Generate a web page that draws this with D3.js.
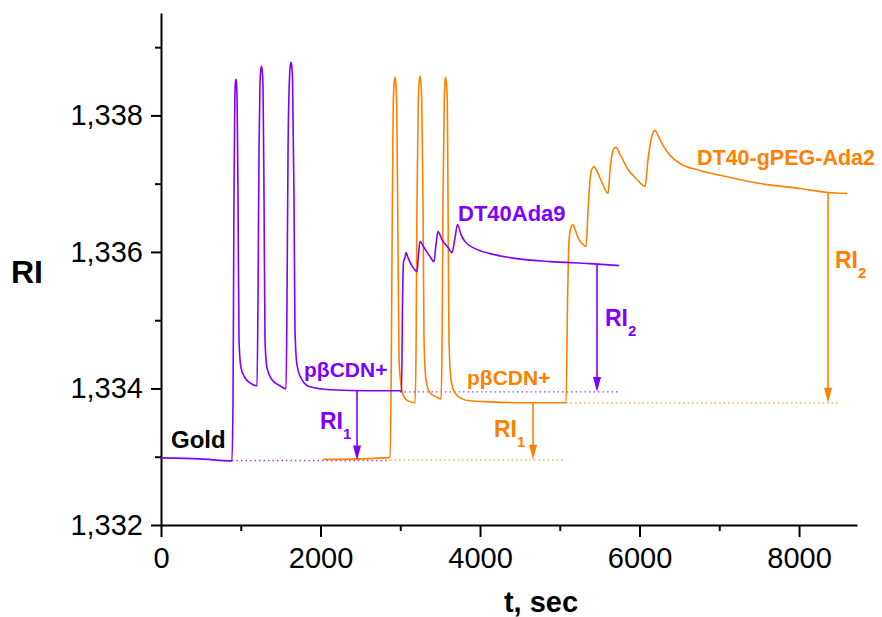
<!DOCTYPE html>
<html><head><meta charset="utf-8">
<script src="https://cdn.jsdelivr.net/npm/d3@7"></script>
<style>
body{margin:0;background:#fff;}
text{font-family:"Liberation Sans",Arial,sans-serif;}
</style></head>
<body><svg id="c" width="882" height="617"></svg>
<script>
// ---- data ----
const purpleT  = [0,489,890,903,915,925,933,940,947,955,966,978,1003,1053,1116,1204,1216,1229,1241,1252,1260,1268,1279,1292,1304,1329,1392,1492,1568,1580,1593,1611,1622,1630,1638,1649,1668,1680,1705,1768,1868,2119,2621,2997,3016,3029,3041,3060,3072,3097,3147,3210,3229,3248,3298,3373,3423,3448,3473,3523,3599,3649,3687,3718,3762,3812,3938,4126,4376,4878,5380,5743];
const purpleRI = [1.332983,1.332968,1.332939,1.333834,1.336768,1.338150,1.338480,1.338528,1.338470,1.338150,1.336768,1.334714,1.334303,1.334157,1.334083,1.334039,1.335300,1.337500,1.338450,1.338680,1.338719,1.338670,1.338450,1.336768,1.334714,1.334303,1.334127,1.334039,1.333995,1.335300,1.337500,1.338550,1.338740,1.338778,1.338740,1.338550,1.336768,1.334860,1.334347,1.334127,1.334024,1.333981,1.333966,1.333966,1.333951,1.335301,1.335858,1.335917,1.335990,1.335917,1.335799,1.335711,1.335961,1.336152,1.336064,1.335932,1.335858,1.336108,1.336298,1.336181,1.336064,1.335990,1.336210,1.336401,1.336254,1.336151,1.336049,1.335975,1.335917,1.335858,1.335829,1.335800];
const orangeT  = [2031,2495,2872,2884,2897,2912,2926,2934,2942,2956,2972,2985,3010,3047,3097,3185,3198,3210,3226,3240,3248,3256,3270,3285,3298,3323,3373,3448,3511,3524,3536,3552,3562,3568,3576,3590,3599,3611,3637,3687,3774,3875,4126,4627,5079,5098,5117,5142,5167,5192,5242,5292,5330,5355,5380,5405,5430,5468,5530,5606,5631,5656,5681,5706,5756,5856,5957,6069,6107,6145,6170,6195,6232,6295,6383,6508,6759,7135,7511,8013,8364,8602];
const orangeRI = [1.332961,1.332968,1.332990,1.333834,1.336034,1.338150,1.338500,1.338557,1.338500,1.338150,1.336034,1.334420,1.334054,1.333878,1.333819,1.333790,1.334567,1.336768,1.338200,1.338520,1.338572,1.338520,1.338200,1.336768,1.334714,1.334127,1.333936,1.333878,1.333848,1.334567,1.336768,1.338200,1.338500,1.338557,1.338500,1.338200,1.336768,1.334714,1.334127,1.333936,1.333848,1.333819,1.333804,1.333790,1.333790,1.335300,1.336181,1.336357,1.336401,1.336328,1.336181,1.336108,1.336078,1.336621,1.337061,1.337222,1.337252,1.337178,1.337017,1.336856,1.337208,1.337428,1.337516,1.337531,1.337428,1.337208,1.337076,1.336959,1.337355,1.337648,1.337751,1.337780,1.337707,1.337560,1.337413,1.337296,1.337193,1.337090,1.337002,1.336929,1.336870,1.336856];

// reference (dotted) levels and arrows
const purpleBase1 = {t0:890, t1:2870, ri:1.332945};
const purpleBase2 = {t0:2997, t1:5756, ri:1.333950};
const orangeBase1 = {t0:2872, t1:5042, ri:1.332954};
const orangeBase2 = {t0:5079, t1:8515, ri:1.333790};
const purpleArrows = [{t:2458, from:1.333966, to:1.332945},{t:5467, from:1.335830, to:1.333950}];
const orangeArrows = [{t:4665, from:1.333790, to:1.332954},{t:8364, from:1.336870, to:1.333790}];

const xMajor = [0,2000,4000,6000,8000];
const xMinor = [1000,3000,5000,7000];
const yMajor = [1.332,1.334,1.336,1.338];
const yMinor = [1.333,1.335,1.337,1.339];

// ---- layout ----
const PURPLE = "#8000ff", ORANGE = "#ff8000";
const svg = d3.select("#c");
const L = 161, T = 13, R = 857, B = 525;
const x = d3.scaleLinear().domain([0, 8727]).range([L, R]);
const y = d3.scaleLinear().domain([1.332, 1.3395]).range([B, T]);

const fmtY = d => d3.format(".3f")(d).replace(".", ",");
const fmtX = d3.format("d");

// minor ticks
svg.append("g").attr("transform",`translate(${L},0)`)
  .call(d3.axisLeft(y).tickValues(yMinor).tickSize(6).tickSizeOuter(0).tickFormat(""))
  .call(g=>g.select(".domain").remove())
  .call(g=>g.selectAll("line").attr("stroke","#000").attr("stroke-width",2));
svg.append("g").attr("transform",`translate(0,${B})`)
  .call(d3.axisBottom(x).tickValues(xMinor).tickSize(6).tickSizeOuter(0).tickFormat(""))
  .call(g=>g.select(".domain").remove())
  .call(g=>g.selectAll("line").attr("stroke","#000").attr("stroke-width",2));

// major axes
const gy = svg.append("g").attr("transform",`translate(${L},0)`)
  .call(d3.axisLeft(y).tickValues(yMajor).tickSize(10).tickSizeOuter(0).tickPadding(8).tickFormat(fmtY));
const gx = svg.append("g").attr("transform",`translate(0,${B})`)
  .call(d3.axisBottom(x).tickValues(xMajor).tickSize(12).tickSizeOuter(0).tickPadding(10).tickFormat(fmtX));
[gy,gx].forEach(g=>{
  g.attr("font-family","'Liberation Sans',Arial,sans-serif").attr("font-size",29);
  g.selectAll("text").attr("fill","#000");
  g.selectAll("line").attr("stroke","#000").attr("stroke-width",2);
  g.select(".domain").attr("stroke","#000").attr("stroke-width",2);
});

// axis titles
svg.append("text").attr("x",27).attr("y",283).attr("text-anchor","middle")
  .attr("font-size",32).attr("font-weight","bold").text("RI");
svg.append("text").attr("x",541).attr("y",612).attr("text-anchor","middle")
  .attr("font-size",29).attr("font-weight","bold").text("t, sec");

// dotted baselines
function dotted(b, col){
  svg.append("line").attr("x1",x(b.t0)).attr("x2",x(b.t1)).attr("y1",y(b.ri)).attr("y2",y(b.ri))
    .attr("stroke",col).attr("stroke-width",1.3).attr("stroke-dasharray","1.5,3").attr("opacity",0.75);
}
dotted(purpleBase1, PURPLE); dotted(orangeBase1, ORANGE);
dotted(purpleBase2, PURPLE); dotted(orangeBase2, ORANGE);

// curves
const line = d3.line().x(d=>x(d[0])).y(d=>y(d[1])).curve(d3.curveMonotoneX);
svg.append("path").datum(orangeT.map((t,i)=>[t,orangeRI[i]]))
  .attr("d",line).attr("fill","none").attr("stroke",ORANGE).attr("stroke-width",1.6);
svg.append("path").datum(purpleT.map((t,i)=>[t,purpleRI[i]]))
  .attr("d",line).attr("fill","none").attr("stroke",PURPLE).attr("stroke-width",1.6);

// arrows
function arrow(a, col){
  const xa = x(a.t), y0 = y(a.from), y1 = y(a.to);
  svg.append("line").attr("x1",xa).attr("x2",xa).attr("y1",y0).attr("y2",y1-14)
    .attr("stroke",col).attr("stroke-width",1.6);
  svg.append("path").attr("d",`M${xa-4},${y1-15}L${xa+4},${y1-15}L${xa},${y1}Z`).attr("fill",col);
}
purpleArrows.forEach(a=>arrow(a,PURPLE));
orangeArrows.forEach(a=>arrow(a,ORANGE));

// labels
function label(txt, px, py, col, size, sub){
  const t = svg.append("text").attr("x",px).attr("y",py).attr("fill",col)
    .attr("font-size",size).attr("font-weight","bold").text(txt);
  if(sub) t.append("tspan").attr("dy",10).attr("font-size",15).text(sub);
}
label("Gold",171,448,"#000",24);
label("pβCDN+",304,377,PURPLE,21);
label("RI",320,429,PURPLE,23,"1");
label("DT40Ada9",458,221,PURPLE,22);
label("pβCDN+",467,385,ORANGE,21);
label("RI",494,437,ORANGE,23,"1");
label("RI",605,326,PURPLE,23,"2");
label("DT40-gPEG-Ada2",697,165,ORANGE,21.5);
label("RI",835,268,ORANGE,23,"2");
</script></body></html>
